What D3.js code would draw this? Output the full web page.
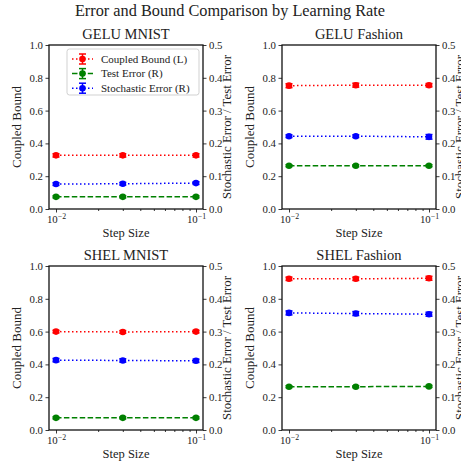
<!DOCTYPE html>
<html>
<head>
<meta charset="utf-8" />
<title>Error and Bound Comparison by Learning Rate</title>
<style>
  body { margin: 0; background: #fff; }
  svg { display: block; }
  text { font-family: "Liberation Serif", serif; fill: #222; }
</style>
</head>
<body>
<svg id="svg" width="461" height="467"></svg>
<script src="https://cdn.jsdelivr.net/npm/d3@7"></script>
<script>
// data
const panelTitles = ['GELU MNIST', 'GELU Fashion', 'SHEL MNIST', 'SHEL Fashion']
const stepSizes = [0.01, 0.03, 0.1]
const coupledBound = [[0.327, 0.327, 0.327], [0.752, 0.755, 0.755], [0.600, 0.598, 0.600], [0.922, 0.922, 0.925]]
const coupledBoundErr = [[0.010, 0.010, 0.010], [0.012, 0.012, 0.010], [0.008, 0.008, 0.008], [0.010, 0.010, 0.012]]
const testError = [[0.037, 0.037, 0.037], [0.132, 0.132, 0.132], [0.037, 0.037, 0.037], [0.132, 0.132, 0.133]]
const testErrorErr = [[0.003, 0.003, 0.003], [0.003, 0.003, 0.003], [0.003, 0.003, 0.003], [0.003, 0.003, 0.003]]
const stochError = [[0.076, 0.077, 0.079], [0.222, 0.222, 0.220], [0.213, 0.212, 0.211], [0.357, 0.355, 0.353]]
const stochErrorErr = [[0.004, 0.004, 0.004], [0.004, 0.004, 0.007], [0.005, 0.005, 0.005], [0.006, 0.006, 0.006]]
const leftTicks = [0, 0.2, 0.4, 0.6, 0.8, 1.0]
const rightTicks = [0, 0.1, 0.2, 0.3, 0.4, 0.5]
const legendLabels = ['Coupled Bound (L)', 'Test Error (R)', 'Stochastic Error (R)']

const colors = ['red', 'green', 'blue']
const dashes = ['1.5,2.5', '5.5,2.4', '1.5,2.5']

const svg = d3.select('#svg')
const W = 154, H = 164
const origins = [[49, 45], [282, 45], [49, 266], [282, 266]]

svg.append('text')
  .attr('x', 230).attr('y', 16)
  .attr('text-anchor', 'middle')
  .style('font-size', '16.3px')
  .text('Error and Bound Comparison by Learning Rate')

panelTitles.forEach((title, i) => {
  const g = svg.append('g').attr('transform', `translate(${origins[i][0]},${origins[i][1]})`)
  const x = d3.scaleLog().domain([Math.pow(10, -2.05), Math.pow(10, -0.95)]).range([0, W])
  const yL = d3.scaleLinear().domain([0, 1]).range([H, 0])
  const yR = d3.scaleLinear().domain([0, 0.5]).range([H, 0])

  // left axis
  const axL = g.append('g')
    .call(d3.axisLeft(yL).tickValues(leftTicks).tickFormat(d3.format('.1f')).tickSize(3.5).tickSizeOuter(0).tickPadding(2.5))
  // right axis
  const axR = g.append('g').attr('transform', `translate(${W},0)`)
    .call(d3.axisRight(yR).tickValues(rightTicks).tickFormat(d3.format('.1f')).tickSize(3.5).tickSizeOuter(0).tickPadding(2.5))
  // bottom axis: minor ticks then majors with 10^n labels
  const minor = d3.range(2, 10).map(k => k * 0.01)
  g.append('g').attr('transform', `translate(0,${H})`)
    .call(d3.axisBottom(x).tickValues(minor).tickFormat('').tickSize(2).tickSizeOuter(0))
  const axB = g.append('g').attr('transform', `translate(0,${H})`)
    .call(d3.axisBottom(x).tickValues([0.01, 0.1]).tickFormat('').tickSize(3.5).tickSizeOuter(0))
  axB.selectAll('.tick').append('text')
    .attr('y', 14).attr('fill', '#222').attr('text-anchor', 'middle')
    .style('font-size', '10.8px')
    .each(function (d) {
      const t = d3.select(this)
      t.append('tspan').text('10')
      t.append('tspan').attr('dy', -4.5).style('font-size', '7.8px').text('\u2212' + Math.round(-Math.log10(d)))
    })

  g.selectAll('.domain').remove()
  g.selectAll('.tick line').attr('stroke', '#222').attr('stroke-width', 0.9)
  axL.selectAll('text').style('font-size', '10.8px').attr('fill', '#444')
  axR.selectAll('text').style('font-size', '10.8px').attr('fill', '#444')
  axB.selectAll('text').attr('fill', '#444')

  // frame
  g.append('rect').attr('width', W).attr('height', H)
    .attr('fill', 'none').attr('stroke', '#111').attr('stroke-width', 1.3)

  // series
  const series = [
    { v: coupledBound[i], e: coupledBoundErr[i], y: yL },
    { v: testError[i], e: testErrorErr[i], y: yR },
    { v: stochError[i], e: stochErrorErr[i], y: yR }
  ]
  series.forEach((s, k) => {
    const pts = stepSizes.map((d, j) => ({ x: d, v: s.v[j], e: s.e[j] }))
    g.append('path')
      .attr('d', d3.line().x(d => x(d.x)).y(d => s.y(d.v))(pts))
      .attr('fill', 'none').attr('stroke', colors[k]).attr('stroke-width', 1.5)
      .attr('stroke-dasharray', dashes[k])
    const pg = g.selectAll(null).data(pts).enter().append('g')
      .attr('stroke', colors[k]).attr('fill', colors[k]).attr('stroke-width', 1.5)
    pg.append('line')
      .attr('x1', d => x(d.x)).attr('x2', d => x(d.x))
      .attr('y1', d => s.y(d.v - d.e)).attr('y2', d => s.y(d.v + d.e))
    pg.append('line')
      .attr('x1', d => x(d.x) - 3.5).attr('x2', d => x(d.x) + 3.5)
      .attr('y1', d => s.y(d.v - d.e)).attr('y2', d => s.y(d.v - d.e))
    pg.append('line')
      .attr('x1', d => x(d.x) - 3.5).attr('x2', d => x(d.x) + 3.5)
      .attr('y1', d => s.y(d.v + d.e)).attr('y2', d => s.y(d.v + d.e))
    pg.append('circle')
      .attr('cx', d => x(d.x)).attr('cy', d => s.y(d.v)).attr('r', 3.3)
      .attr('stroke', 'none')
  })

  // titles and labels
  g.append('text').attr('x', W / 2).attr('y', -6).attr('text-anchor', 'middle')
    .style('font-size', '14.5px').text(title)
  g.append('text').attr('x', W / 2).attr('y', H + 28).attr('text-anchor', 'middle')
    .style('font-size', '12.5px').attr('fill', '#444').text('Step Size')
  g.append('text').attr('transform', `translate(-28,${H / 2}) rotate(-90)`)
    .attr('text-anchor', 'middle').style('font-size', '13px').attr('fill', '#444').text('Coupled Bound')
  g.append('text').attr('transform', `translate(${W + 28},${H / 2}) rotate(-90)`)
    .attr('text-anchor', 'middle').style('font-size', '12.8px').attr('fill', '#444').text('Stochastic Error / Test Error')

  // legend only on first panel
  if (i === 0) {
    const lg = g.append('g').attr('transform', 'translate(18,4)')
    lg.append('rect').attr('width', 132).attr('height', 46).attr('rx', 2.5)
      .attr('fill', '#fff').attr('fill-opacity', 0.8).attr('stroke', '#ccc').attr('stroke-width', 0.9)
    legendLabels.forEach((lab, k) => {
      const yy = 10 + k * 14.6
      const it = lg.append('g').attr('transform', `translate(0,${yy})`)
        .attr('stroke', colors[k]).attr('fill', colors[k]).attr('stroke-width', 1.5)
      it.append('line').attr('x1', 5).attr('x2', 26).attr('stroke-dasharray', dashes[k])
      it.append('line').attr('x1', 15.5).attr('x2', 15.5).attr('y1', -5).attr('y2', 5)
      it.append('line').attr('x1', 12).attr('x2', 19).attr('y1', -5).attr('y2', -5)
      it.append('line').attr('x1', 12).attr('x2', 19).attr('y1', 5).attr('y2', 5)
      it.append('circle').attr('cx', 15.5).attr('r', 3.3).attr('stroke', 'none')
      lg.append('text').attr('x', 34).attr('y', yy + 3.5).style('font-size', '11px')
        .attr('fill', '#444').text(lab)
    })
  }
})
</script>
</body>
</html>
